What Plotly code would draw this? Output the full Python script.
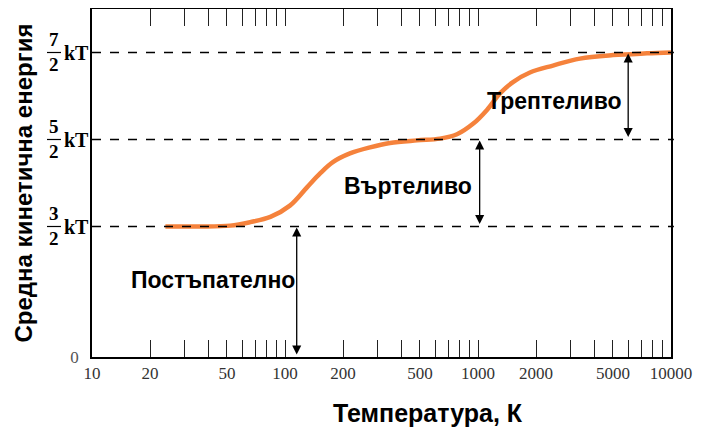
import math
import plotly.graph_objects as go

# ---- data ----
T_curve = [24, 36, 52, 66, 84, 106, 130, 152, 177, 217, 276, 350, 483, 635,
           778, 942, 1113, 1300, 1518, 1858, 2447, 3375, 5000, 7510, 10000]
E_curve = [1.5, 1.5, 1.51, 1.55, 1.61, 1.74, 1.95, 2.11, 2.24, 2.34, 2.41, 2.46, 2.49, 2.51,
           2.56, 2.68, 2.84, 3.03, 3.16, 3.27, 3.35, 3.43, 3.47, 3.49, 3.5]

levels = [1.5, 2.5, 3.5]
level_num = ["3", "5", "7"]
level_den = ["2", "2", "2"]

arrow_T = [115, 1020, 6000]
arrow_from = [0, 1.5, 2.5]
arrow_to = [1.5, 2.5, 3.5]

label_text = ["Постъпателно", "Въртеливо", "Трептеливо"]
label_T = [42.4, 434, 2477]
label_E = [0.89, 1.96, 2.94]

x_major = [10, 20, 50, 100, 200, 500, 1000, 2000, 5000, 10000]
x_ticks = [m * d for d in (10, 100, 1000) for m in range(1, 10)] + [10000]
x_ticktext = [f"{v}" if v in x_major else "" for v in x_ticks]

SERIF = "Liberation Serif, Times New Roman, serif"
SANS = "Liberation Sans, Arial, sans-serif"

fig = go.Figure()
fig.add_trace(go.Scatter(
    x=T_curve, y=E_curve, mode="lines",
    line=dict(color="#F5823C", width=4.5, shape="spline", smoothing=1.0),
    hoverinfo="skip", showlegend=False,
))

shapes = []
annotations = []
for lv, n, d in zip(levels, level_num, level_den):
    shapes.append(dict(type="line", xref="paper", yref="y", x0=0, x1=1.005, y0=lv, y1=lv,
                       line=dict(color="black", width=1.5, dash="dash"), layer="above"))
    # fraction bar
    shapes.append(dict(type="line", xref="paper", yref="y", xsizemode="pixel", xanchor=0,
                       x0=-45, x1=-31, y0=lv, y1=lv, line=dict(color="black", width=1.2)))
    annotations.append(dict(xref="paper", yref="y", x=0, y=lv, xshift=-38, yshift=13,
                            xanchor="center", yanchor="middle",
                            text=f"<b>{n}</b>", showarrow=False,
                            font=dict(family=SERIF, size=19, color="black")))
    annotations.append(dict(xref="paper", yref="y", x=0, y=lv, xshift=-38, yshift=-12,
                            xanchor="center", yanchor="middle",
                            text=f"<b>{d}</b>", showarrow=False,
                            font=dict(family=SERIF, size=19, color="black")))
    annotations.append(dict(xref="paper", yref="y", x=0, y=lv, xshift=-16, yshift=0,
                            xanchor="center", yanchor="middle",
                            text="<b>kT</b>", showarrow=False,
                            font=dict(family=SERIF, size=20, color="black")))

for t, a, b in zip(arrow_T, arrow_from, arrow_to):
    annotations.append(dict(x=math.log10(t), y=b, ax=math.log10(t), ay=a,
                            xref="x", yref="y", axref="x", ayref="y",
                            text="", showarrow=True, arrowhead=2, arrowside="end+start",
                            arrowsize=1.4, arrowwidth=1.3, arrowcolor="black",
                            standoff=1, startstandoff=1))

for txt, t, e in zip(label_text, label_T, label_E):
    annotations.append(dict(x=math.log10(t), y=e, xref="x", yref="y",
                            xanchor="center", yanchor="middle",
                            text=f"<b>{txt}</b>", showarrow=False,
                            font=dict(family=SANS, size=23, color="black")))

annotations.append(dict(xref="paper", yref="paper", x=(428 - 92) / 579, y=0,
                        xanchor="center", yanchor="middle",
                        yshift=-56, text="<b>Температура, К</b>", showarrow=False,
                        font=dict(family=SANS, size=25, color="black")))

# the page body adds an 8px offset, so the figure is 8px smaller
fig.update_layout(
    width=703, height=419,
    margin=dict(l=84, r=40, t=1, b=70),
    paper_bgcolor="white", plot_bgcolor="white",
    shapes=shapes, annotations=annotations,
    xaxis=dict(type="log", range=[1, 4], tickvals=x_ticks, ticktext=x_ticktext,
               ticks="inside", ticklen=17, tickwidth=1.3, tickcolor="#222",
               showline=True, linecolor="black", linewidth=1.5, mirror="ticks",
               showgrid=False, zeroline=False, automargin=False,
               tickfont=dict(family=SERIF, size=17, color="#333")),
    yaxis=dict(range=[0, 4.0], tickvals=[0], ticktext=["0"], ticks="",
               showline=True, linecolor="black", linewidth=1.5, mirror=True,
               showgrid=False, zeroline=False, ticklabelstandoff=8, automargin=False,
               tickfont=dict(family=SERIF, size=17, color="#555"),
               title=dict(text="<b>Средна кинетична енергия</b>", standoff=31,
                          font=dict(family=SANS, size=24, color="black"))),
)

fig.write_html("out.html")
